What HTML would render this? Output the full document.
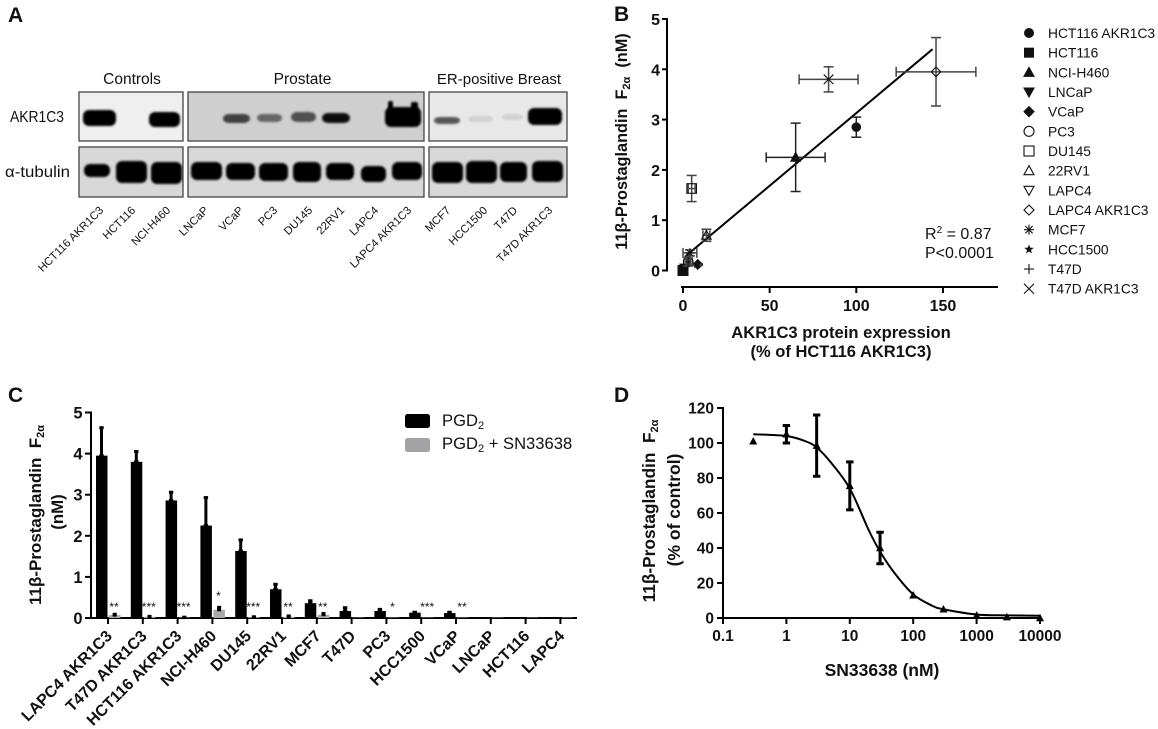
<!DOCTYPE html>
<html>
<head>
<meta charset="utf-8">
<style>
html,body{margin:0;padding:0;background:#fff;}
svg{display:block;filter:blur(0.35px);}
text{font-family:"Liberation Sans",sans-serif;fill:#111;}
.b{font-weight:bold;}
</style>
</head>
<body>
<svg id="fig" xmlns="http://www.w3.org/2000/svg" width="1158" height="729" viewBox="0 0 1158 729">
<defs>
<filter id="bandBlur" x="-20%" y="-30%" width="140%" height="160%"><feGaussianBlur stdDeviation="1"/></filter>
<clipPath id="clipA"><rect x="79" y="92" width="104" height="49"/><rect x="188" y="92" width="236" height="49"/><rect x="429" y="92" width="138" height="49"/><rect x="79" y="147" width="104" height="50"/><rect x="188" y="147" width="236" height="50"/><rect x="429" y="147" width="138" height="50"/></clipPath>
</defs>

<text class="b" x="8" y="22" font-size="21">A</text>
<text class="b" x="614" y="21" font-size="21">B</text>
<text class="b" x="8" y="402" font-size="21">C</text>
<text class="b" x="614" y="402" font-size="21">D</text>

<g id="panelA">
<text x="132" y="84" font-size="15.5" text-anchor="middle">Controls</text>
<text x="302.5" y="84" font-size="15.5" text-anchor="middle">Prostate</text>
<text x="499" y="84" font-size="15" text-anchor="middle">ER-positive Breast</text>
<text x="10" y="122" font-size="16" textLength="54" lengthAdjust="spacingAndGlyphs">AKR1C3</text>
<text x="5" y="177" font-size="16" textLength="65" lengthAdjust="spacingAndGlyphs">α-tubulin</text>
</g>

<g id="panelB">
<text class="b" transform="translate(627,141.5) rotate(-90)" font-size="16.3" text-anchor="middle" xml:space="preserve">11β-Prostaglandin  F<tspan font-size="11" dy="3">2α</tspan><tspan dy="-3">  (nM)</tspan></text>
<text class="b" x="841" y="338" font-size="16.6" text-anchor="middle">AKR1C3 protein expression</text>
<text class="b" x="841" y="357" font-size="16.5" text-anchor="middle">(% of HCT116 AKR1C3)</text>
<text x="925" y="239" font-size="16">R<tspan font-size="10" dy="-6">2</tspan><tspan dy="6"> = 0.87</tspan></text>
<text x="925" y="258" font-size="16">P&lt;0.0001</text>
</g>

<g id="panelC">
<text class="b" transform="translate(41,515) rotate(-90)" font-size="17" text-anchor="middle" xml:space="preserve">11β-Prostaglandin  F<tspan font-size="11" dy="3">2α</tspan></text>
<text class="b" transform="translate(63,512) rotate(-90)" font-size="16.8" text-anchor="middle">(nM)</text>
<text x="442" y="426" font-size="16.6">PGD<tspan font-size="11" dy="3">2</tspan></text>
<text x="442" y="449" font-size="16.6">PGD<tspan font-size="11" dy="3">2</tspan><tspan dy="-3"> + SN33638</tspan></text>
</g>

<g id="panelD">
<text class="b" transform="translate(655,511) rotate(-90)" font-size="17.3" text-anchor="middle" xml:space="preserve">11β-Prostaglandin  F<tspan font-size="11" dy="3">2α</tspan></text>
<text class="b" transform="translate(680,510) rotate(-90)" font-size="17.5" text-anchor="middle">(% of control)</text>
<text class="b" x="882" y="676" font-size="17.5" text-anchor="middle">SN33638 (nM)</text>
</g>
</svg>

<script>
// ---------- Panel B data ----------
var bNames = ['HCT116 AKR1C3','HCT116','NCI-H460','LNCaP','VCaP','PC3','DU145','22RV1','LAPC4','LAPC4 AKR1C3','MCF7','HCC1500','T47D','T47D AKR1C3'];
var bMarkers = ['circle','square','triangle','invtriangle','diamond','ocircle','osquare','otriangle','oinvtriangle','odiamond','asterisk','star','plus','cross'];
var bExpression = [100,0,65,1,8.5,3,5,13.5,0.5,146,4,8,3,84];
var bExpressionErr = [0,0,17,0,0,1,2,2,0,23,4,0,1,17];
var bPg = [2.85,0,2.25,0.05,0.12,0.17,1.63,0.7,0.02,3.95,0.35,0.12,0.17,3.8];
var bPgErr = [0.2,0,0.68,0,0.02,0.04,0.26,0.12,0,0.68,0.06,0.01,0.08,0.25];
var bFitX = [1,144];
var bFitY = [0.27,4.4];
var bXTicks = [0,50,100,150];
var bYTicks = [0,1,2,3,4,5];

// ---------- Panel C data ----------
var cCategories = ['LAPC4 AKR1C3','T47D AKR1C3','HCT116 AKR1C3','NCI-H460','DU145','22RV1','MCF7','T47D','PC3','HCC1500','VCaP','LNCaP','HCT116','LAPC4'];
var cPgd2 = [3.95,3.8,2.86,2.25,1.63,0.7,0.36,0.17,0.17,0.13,0.12,0.02,0.01,0.02];
var cPgd2Err = [0.68,0.25,0.2,0.68,0.27,0.12,0.06,0.08,0.04,0.01,0.02,0,0,0];
var cCombo = [0.07,0.03,0.01,0.2,0.02,0.03,0.08,0.01,0.01,0.01,0.01,0.01,0.01,0.01];
var cComboErr = [0.02,0.01,0.01,0.06,0.01,0.02,0.03,0,0,0,0,0,0,0];
var cSig = ['**','***','***','*','***','**','**','','*','***','**','','',''];
var cYTicks = [0,1,2,3,4,5];

// ---------- Panel D data ----------
var dDose = [0.3,1,3,10,30,100,300,1000,3000,10000];
var dResponse = [101,105,98.5,75.5,40,13,5,1.5,0.5,0];
var dErr = [0,5,17.5,13.7,9,0,0,0,0,0];
var dCurveDose = [0.3,1,2,3,5,10,20,30,50,100,200,300,1000,3000,10000];
var dCurveResp = [105,104,101,97.5,89,74,50,38,26,13.5,7,5,2,1.5,1.3];
var dXTicks = [0.1,1,10,100,1000,10000];
var dYTicks = [0,20,40,60,80,100,120];

// ---------- Panel A data ----------
var laneLabels = ['HCT116 AKR1C3','HCT116','NCI-H460','LNCaP','VCaP','PC3','DU145','22RV1','LAPC4','LAPC4 AKR1C3','MCF7','HCC1500','T47D','T47D AKR1C3'];
var akrDensity = [1,0,1,0,0.72,0.55,0.65,0.95,0,1,0.62,0.07,0.07,1];
var tubulinDensity = [1,1,1,1,1,1,1,1,1,1,1,1,1,1];

var NS = 'http://www.w3.org/2000/svg';
function add(parent, tag, attrs){
  var el = document.createElementNS(NS, tag);
  for (var k in attrs) el.setAttribute(k, attrs[k]);
  parent.appendChild(el);
  return el;
}
var gA = document.getElementById('panelA');
var gB = document.getElementById('panelB');
var gC = document.getElementById('panelC');
var gD = document.getElementById('panelD');

// ---------- Panel A drawing ----------
var blotBoxes = [[79,104,'#efefef'],[188,236,'#cfcfcf'],[429,138,'#e8e8e8']];
var laneBoxes = [[83,33],[116,30],[149,31],[191,31],[223,27],[257,25],[291,25],[322,28],[361,25],[385,36],[434,26],[468,25],[502,21],[528,34]];
var tubeBoxes = [[84,26,164,13],[116,31,161,22],[151,31,162,22],[191,31,162,18],[226,29,163,17],[259,29,163,18],[293,28,162,20],[326,28,163,17],[361,25,166,16],[392,30,162,18],[432,31,162,21],[466,31,161,22],[500,27,162,20],[532,31,161,21]];
var akrY = [[110,16],[0,0],[112,15],[0,0],[114,9],[114,8],[112,10],[113,10],[0,0],[107,20],[117,7],[116,6],[114,6],[108,17]];
var laneEndX = [104,136,171,209,244,278,313,345,379,412,451,488,518,553];

blotBoxes.forEach(function(b, i){
  var r1 = add(gA, 'rect', {x:b[0], y:92, width:b[1], height:49, fill:b[2], stroke:'#444', 'stroke-width':1.3});
  
  
  var r2 = add(gA, 'rect', {x:b[0], y:147, width:b[1], height:50, fill:'#d8d8d8', stroke:'#444', 'stroke-width':1.3});
  
  
});
var clipGroup = add(gA, 'g', {'clip-path':'url(#clipA)'});
akrDensity.forEach(function(d, i){
  if (d <= 0) return;
  var v = Math.round(225 * (1 - d));
  var col = 'rgb(' + v + ',' + v + ',' + v + ')';
  var l = laneBoxes[i], y = akrY[i];
  var band = add(clipGroup, 'rect', {x:l[0], y:y[0], width:l[1], height:y[1], rx:6, fill:col, filter:'url(#bandBlur)'});
  
  
});
var earL = add(clipGroup, 'rect', {x:388, y:101, width:5, height:10, rx:2, fill:'#000', filter:'url(#bandBlur)'});


var earR = add(clipGroup, 'rect', {x:411, y:102, width:7, height:9, rx:2, fill:'#000', filter:'url(#bandBlur)'});


tubulinDensity.forEach(function(d, i){
  var t = tubeBoxes[i];
  var v = Math.round(225 * (1 - d));
  var band = add(clipGroup, 'rect', {x:t[0], y:t[2], width:t[1], height:t[3], rx:6, fill:'rgb(' + v + ',' + v + ',' + v + ')', filter:'url(#bandBlur)'});
  
  
});
laneLabels.forEach(function(name, i){
  var t = add(gA, 'text', {transform:'translate(' + laneEndX[i] + ',211) rotate(-45)', 'font-size':11.2, 'text-anchor':'end', fill:'#222'});
  t.textContent = name;
  
  
});

// ---------- Shared axis helpers ----------
function bx(v){ return 683 + v * 1.733; }
function by(v){ return 270.5 - v * 50.3; }
function cy(v){ return 618 - v * 41.1; }
function cx(i){ return 108 + i * 34.8; }
function dx(v){ return 723 + (Math.log(v) / Math.LN10 + 1) * 63.4; }
function dy(v){ return 618 - v * 1.75; }

function line(parent, x1, y1, x2, y2, w, col){
  return add(parent, 'line', {x1:x1, y1:y1, x2:x2, y2:y2, stroke:col || '#000', 'stroke-width':w});
}
function errorBar(parent, x, yLo, yHi, cap, w, col){
  var g = add(parent, 'g', {});
  line(g, x, yLo, x, yHi, w, col);
  line(g, x - cap, yHi, x + cap, yHi, w, col);
  line(g, x - cap, yLo, x + cap, yLo, w, col);
  return g;
}

// ---------- Panel B drawing ----------
function drawMarker(parent, kind, x, y, r){
  var sw = 1.1, col = '#111';
  var g = add(parent, 'g', {});
  var p = function(pts, fill){ return add(g, 'polygon', {points:pts, fill:fill, stroke:col, 'stroke-width':sw}); };
  var tri = (x) + ',' + (y - r) + ' ' + (x + r) + ',' + (y + r * 0.8) + ' ' + (x - r) + ',' + (y + r * 0.8);
  var inv = (x) + ',' + (y + r) + ' ' + (x + r) + ',' + (y - r * 0.8) + ' ' + (x - r) + ',' + (y - r * 0.8);
  var dia = x + ',' + (y - r) + ' ' + (x + r) + ',' + y + ' ' + x + ',' + (y + r) + ' ' + (x - r) + ',' + y;
  if (kind === 'circle') add(g, 'circle', {cx:x, cy:y, r:r, fill:col});
  if (kind === 'square') add(g, 'rect', {x:x - r, y:y - r, width:2 * r, height:2 * r, fill:col});
  if (kind === 'triangle') p(tri, col);
  if (kind === 'invtriangle') p(inv, col);
  if (kind === 'diamond') p(dia, col);
  if (kind === 'ocircle') add(g, 'circle', {cx:x, cy:y, r:r, fill:'none', stroke:col, 'stroke-width':sw});
  if (kind === 'osquare') add(g, 'rect', {x:x - r, y:y - r, width:2 * r, height:2 * r, fill:'none', stroke:col, 'stroke-width':sw});
  if (kind === 'otriangle') p(tri, 'none');
  if (kind === 'oinvtriangle') p(inv, 'none');
  if (kind === 'odiamond') p(dia, 'none');
  if (kind === 'asterisk' || kind === 'plus') {
    line(g, x - r, y, x + r, y, sw, col); line(g, x, y - r, x, y + r, sw, col);
  }
  if (kind === 'asterisk' || kind === 'cross') {
    var c = kind === 'cross' ? r : r * 0.72;
    line(g, x - c, y - c, x + c, y + c, sw, col); line(g, x - c, y + c, x + c, y - c, sw, col);
  }
  if (kind === 'star') {
    var s = '';
    for (var i = 0; i < 10; i++) {
      var a = -Math.PI / 2 + i * Math.PI / 5, q = i % 2 ? r * 0.42 : r;
      s += (x + q * Math.cos(a)) + ',' + (y + q * Math.sin(a)) + ' ';
    }
    add(g, 'polygon', {points:s, fill:col});
  }
  return g;
}

var bAxisY = add(gB, 'line', {x1:667, y1:by(5) - 1, x2:667, y2:by(0) + 1, stroke:'#000', 'stroke-width':2});


var bAxisX = add(gB, 'line', {x1:681, y1:287, x2:998, y2:287, stroke:'#000', 'stroke-width':2});


bYTicks.forEach(function(v){
  line(gB, 662, by(v), 667, by(v), 2);
  var t = add(gB, 'text', {x:660, y:by(v) + 6, 'font-size':16, 'font-weight':'bold', 'text-anchor':'end'});
  t.textContent = v;
  
  
});
bXTicks.forEach(function(v){
  line(gB, bx(v), 287, bx(v), 293, 2);
  var t = add(gB, 'text', {x:bx(v), y:311, 'font-size':16, 'font-weight':'bold', 'text-anchor':'middle'});
  t.textContent = v;
  
  
});
var fit = add(gB, 'line', {x1:bx(bFitX[0]), y1:by(bFitY[0]), x2:bx(bFitX[1]), y2:by(bFitY[1]), stroke:'#000', 'stroke-width':2});


bNames.forEach(function(name, i){
  var g = add(gB, 'g', {});
  
  
  var x = bx(bExpression[i]), y = by(bPg[i]);
  var dark = i < 5 ? '#222' : '#444';
  if (bPgErr[i] > 0) errorBar(g, x, by(bPg[i] - bPgErr[i]), by(bPg[i] + bPgErr[i]), 5, 1.5, dark);
  if (bExpressionErr[i] > 0) {
    var xl = bx(bExpression[i] - bExpressionErr[i]), xr = bx(bExpression[i] + bExpressionErr[i]);
    line(g, xl, y, xr, y, 1.5, dark);
    line(g, xl, y - 5, xl, y + 5, 1.5, dark);
    line(g, xr, y - 5, xr, y + 5, 1.5, dark);
  }
  drawMarker(g, bMarkers[i], x, y, i === 1 ? 5.5 : 4.8);
  var ly = 33 + i * 19.67;
  var lg = add(gB, 'g', {});
  
  
  drawMarker(lg, bMarkers[i], 1029, ly, 5);
  var t = add(lg, 'text', {x:1048, y:ly + 5, 'font-size':13.8, fill:'#222'});
  t.textContent = name;
});

// ---------- Panel C drawing ----------
var cAxisY = add(gC, 'line', {x1:91, y1:cy(5) - 1, x2:91, y2:619, stroke:'#000', 'stroke-width':2});


var cAxisX = add(gC, 'line', {x1:90, y1:618, x2:577, y2:618, stroke:'#000', 'stroke-width':2});


cYTicks.forEach(function(v){
  line(gC, 85, cy(v), 91, cy(v), 2);
  var t = add(gC, 'text', {x:82.5, y:cy(v) + 6, 'font-size':16.5, 'font-weight':'bold', 'text-anchor':'end'});
  t.textContent = v;
  
  
});
cCategories.forEach(function(name, i){
  var tick = cx(i);
  line(gC, tick, 618, tick, 624, 2);
  if (cPgd2Err[i] > 0) errorBar(gC, tick - 6.5, cy(cPgd2[i]), cy(cPgd2[i] + cPgd2Err[i]), 2.2, 3, '#000');
  var b = add(gC, 'rect', {x:tick - 12, y:cy(cPgd2[i]), width:11.5, height:618 - cy(cPgd2[i]), fill:'#000'});
  
  
  var b2 = add(gC, 'rect', {x:tick + 1, y:cy(cCombo[i]), width:11.5, height:618 - cy(cCombo[i]), fill:'#a9a9ab'});
  
  
  if (cComboErr[i] > 0) errorBar(gC, tick + 6.7, cy(cCombo[i]), cy(cCombo[i] + cComboErr[i]), 2, 3, '#000');
  if (cSig[i]) {
    var s = add(gC, 'text', {x:tick + 6, y:(i === 3 ? 600 : 611), 'font-size':12, 'text-anchor':'middle', fill:'#333'});
    s.textContent = cSig[i];
    
    
  }
  var t = add(gC, 'text', {transform:'translate(' + (tick + 5) + ',637) rotate(-45)', 'font-size':16, 'font-weight':'bold', 'text-anchor':'end'});
  t.textContent = name;
  
  
});
var sw1 = add(gC, 'rect', {x:405, y:414, width:25, height:14, rx:2.5, fill:'#000'});


var sw2 = add(gC, 'rect', {x:405, y:438, width:25, height:14, rx:2.5, fill:'#a3a3a5'});



// ---------- Panel D drawing ----------
var dAxisY = add(gD, 'line', {x1:723, y1:dy(120) - 1, x2:723, y2:619, stroke:'#000', 'stroke-width':2});


var dAxisX = add(gD, 'line', {x1:722, y1:618, x2:1041, y2:618, stroke:'#000', 'stroke-width':2});


dYTicks.forEach(function(v){
  line(gD, 717, dy(v), 723, dy(v), 2);
  var t = add(gD, 'text', {x:714, y:dy(v) + 5.5, 'font-size':15.5, 'font-weight':'bold', 'text-anchor':'end'});
  t.textContent = v;
  
  
});
dXTicks.forEach(function(v){
  line(gD, dx(v), 618, dx(v), 624, 2);
  var t = add(gD, 'text', {x:dx(v), y:641, 'font-size':15.5, 'font-weight':'bold', 'text-anchor':'middle'});
  t.textContent = v;
  
  
});
var pts = dCurveDose.map(function(v, i){ return [dx(v), dy(dCurveResp[i])]; });
var dPath = 'M' + pts[0][0] + ' ' + pts[0][1];
for (var i = 0; i < pts.length - 1; i++) {
  var p0 = pts[Math.max(i - 1, 0)], p1 = pts[i], p2 = pts[i + 1], p3 = pts[Math.min(i + 2, pts.length - 1)];
  dPath += ' C' + (p1[0] + (p2[0] - p0[0]) / 6) + ' ' + (p1[1] + (p2[1] - p0[1]) / 6) + ' ' +
           (p2[0] - (p3[0] - p1[0]) / 6) + ' ' + (p2[1] - (p3[1] - p1[1]) / 6) + ' ' + p2[0] + ' ' + p2[1];
}
var curve = add(gD, 'path', {d:dPath, fill:'none', stroke:'#000', 'stroke-width':2});


dDose.forEach(function(v, i){
  var g = add(gD, 'g', {});
  
  
  var x = dx(v), y = dy(dResponse[i]);
  if (dErr[i] > 0) errorBar(g, x, dy(dResponse[i] - dErr[i]), dy(dResponse[i] + dErr[i]), 3.7, 3, '#000');
  add(g, 'polygon', {points:x + ',' + (y - 4.2) + ' ' + (x + 4) + ',' + (y + 3.2) + ' ' + (x - 4) + ',' + (y + 3.2), fill:'#000'});
});
</script>
</body>
</html>
